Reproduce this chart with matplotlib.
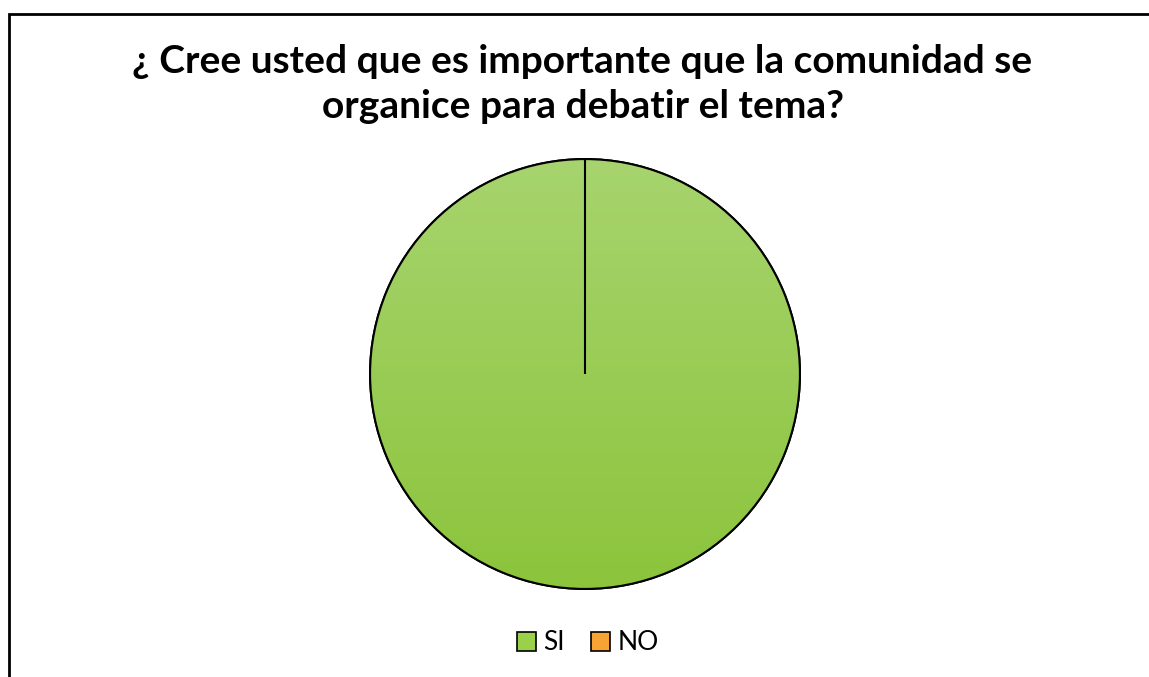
import numpy as np
import matplotlib.pyplot as plt
from matplotlib.patches import Rectangle, Patch, PathPatch
from matplotlib.colors import LinearSegmentedColormap

labels = ['SI', 'NO']
values = [100, 0]
colors = ['#9bd04a', '#f7a435']

fig = plt.figure(figsize=(11.49, 6.77), dpi=100)

# frame around the chart area (runs off right and bottom edge)
fig.patches.append(Rectangle((9 / 1149, -0.05), 1.1, 1 - 14 / 677 + 0.05,
                             transform=fig.transFigure, fill=False,
                             edgecolor='black', linewidth=2))

fig.text(0.507, 1 - 84 / 677, '¿ Cree usted que es importante que la comunidad se\norganice para debatir el tema?',
         ha='center', va='center', fontsize=28, fontweight='bold',
         family=['Lato', 'DejaVu Sans'], linespacing=1.33)

ax = fig.add_axes([(585 - 216) / 1149, 1 - (374 + 216) / 677, 432 / 1149, 432 / 677])
wedges, _ = ax.pie(values, colors=colors, startangle=90, counterclock=False,
                   wedgeprops=dict(edgecolor='black', linewidth=1.5))
ax.set_aspect('equal')
ax.set_xlim(-1.005, 1.005)
ax.set_ylim(-1.005, 1.005)

# vertical gradient on the big slice
grad = np.linspace(0, 1, 256).reshape(-1, 1)
cmap = LinearSegmentedColormap.from_list('g', ['#8cc43c', '#a7d46e'])
im = ax.imshow(grad, extent=(-1, 1, -1, 1), origin='lower', cmap=cmap,
               aspect='auto', zorder=wedges[0].get_zorder() + 0.1)
im.set_clip_path(wedges[0])
for w in wedges:
    outline = PathPatch(w.get_path(), transform=w.get_transform(),
                        fill=False, edgecolor='black', linewidth=1.5,
                        zorder=w.get_zorder() + 0.2)
    ax.add_patch(outline)

handles = [Patch(facecolor=c, edgecolor='black', linewidth=1.2) for c in colors]
fig.legend(handles, labels, loc='center', bbox_to_anchor=(588 / 1149, 1 - 643 / 677),
           ncol=2, frameon=False, handlelength=0.7, handleheight=0.7,
           handletextpad=0.3, columnspacing=1.0,
           prop={'family': ['Lato', 'DejaVu Sans'], 'size': 19})

fig.savefig('out.png', dpi=100)
